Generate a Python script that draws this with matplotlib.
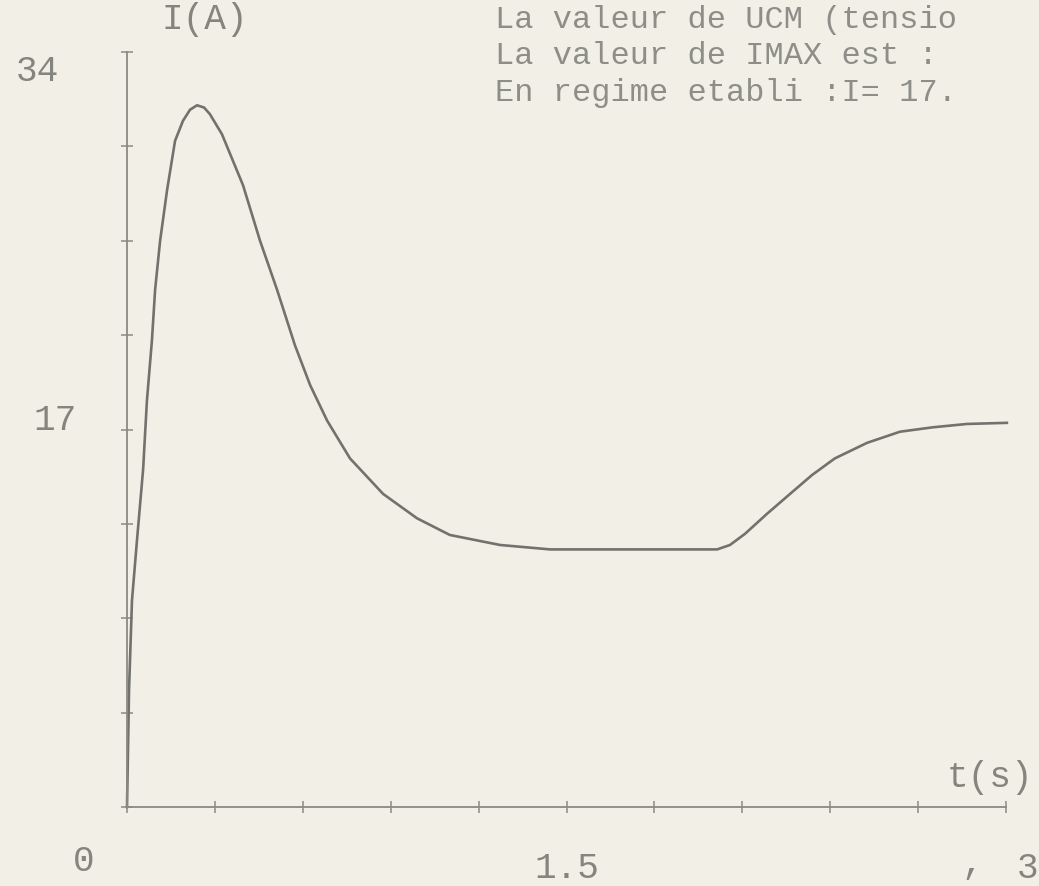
import numpy as np
import matplotlib.pyplot as plt

# courant I(A) en fonction du temps t(s)
t = [0, 0.007, 0.017, 0.034, 0.055, 0.068, 0.085, 0.096, 0.113, 0.137, 0.164,
     0.191, 0.215, 0.239, 0.263, 0.283, 0.324, 0.396, 0.454, 0.512, 0.573,
     0.625, 0.683, 0.761, 0.874, 0.990, 1.102, 1.273, 1.444, 1.751, 2.014,
     2.058, 2.109, 2.184, 2.263, 2.338, 2.416, 2.526, 2.638, 2.751, 2.867,
     3.003]
I = [0, 5.3, 9.3, 12.0, 15.2, 18.3, 21.0, 23.3, 25.5, 27.8, 30.0,
     30.9, 31.4, 31.6, 31.5, 31.2, 30.3, 28.0, 25.5, 23.3, 20.8,
     19.0, 17.4, 15.7, 14.1, 13.0, 12.25, 11.8, 11.6, 11.6, 11.6,
     11.8, 12.3, 13.2, 14.1, 14.95, 15.7, 16.4, 16.9, 17.1, 17.25,
     17.3]

x_ticks = np.arange(0, 3.001, 0.3)
y_ticks = np.arange(0, 34.001, 4.25)
info = ["La valeur de UCM (tensio", "La valeur de IMAX est :", "En regime etabli :I= 17."]

bg = "#f2efe7"
ink = "#85857f"
axis_col = "#8a8a85"
font = "Liberation Mono"

fig = plt.figure(figsize=(10.39, 8.86), dpi=100, facecolor=bg)
ax = fig.add_axes([127/1039, 79/886, 879/1039, 755/886])
ax.set_facecolor(bg)
ax.set_xlim(0, 3)
ax.set_ylim(0, 34)

ax.plot(t, I, color="#72726d", lw=1.9, clip_on=False)

for s in ["top", "right"]:
    ax.spines[s].set_visible(False)
for s in ["left", "bottom"]:
    ax.spines[s].set_color(axis_col)
    ax.spines[s].set_linewidth(1.3)

ax.set_xticks(x_ticks)
ax.set_yticks(y_ticks)
ax.set_xticklabels([])
ax.set_yticklabels([])
ax.tick_params(direction="inout", length=9, width=1.1, color=axis_col)

# etiquettes (police type imprimante)
kw = dict(family=font, fontsize=26, color=ink, clip_on=False,
          ha="center", va="center")
ax.text(-0.147, -2.45, "0", **kw)
ax.text(1.5, -2.75, "1.5", **kw)
ax.text(3.075, -2.75, "3", **kw)
ax.text(2.884, -2.55, ",", **kw)
ax.text(-0.307, 33.1, "34", **kw)
ax.text(-0.246, 17.4, "17", **kw)
ax.text(2.945, 1.35, "t(s)", **kw)
ax.text(0.266, 35.45, "I(A)", **kw)

for k, line in enumerate(info):
    ax.text(1.255, 35.45 - 1.644 * k, line, family=font, fontsize=23,
            color="#8e8e89", ha="left", va="center", clip_on=False)

fig.savefig("out.png", dpi=100, facecolor=bg)
